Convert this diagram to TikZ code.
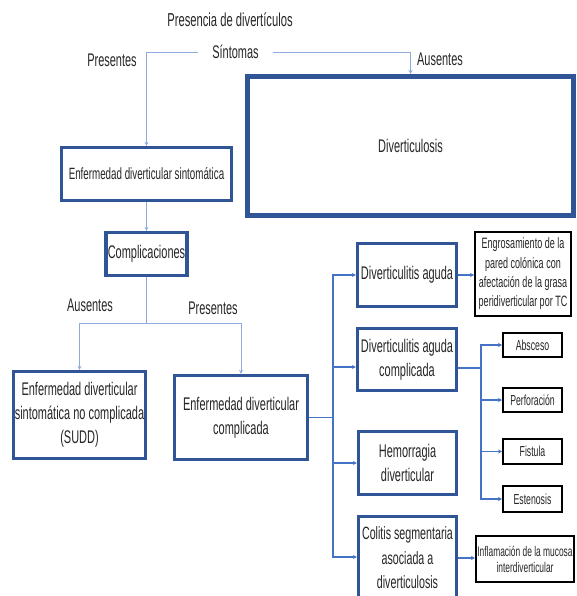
\documentclass[tikz,border=0pt]{standalone}
\usepackage{fontspec}
\setmainfont[FakeStretch=0.6]{Liberation Sans}
\usetikzlibrary{arrows.meta}
\definecolor{boxblue}{HTML}{2F5597}
\definecolor{connA}{HTML}{8FAADC}
\definecolor{connB}{HTML}{4472C4}
\definecolor{txt}{HTML}{262626}
\begin{document}
\begin{tikzpicture}[x=1pt,y=-1pt,
  bbox/.style={draw=boxblue, line width=3.2pt, fill=white, inner sep=1pt, align=center, text=txt},
  kbox/.style={draw=black, line width=1.6pt, fill=white, inner sep=1pt, align=center, text=txt},
  lbl/.style={text=txt, inner sep=0pt, font=\fontsize{18.3}{22}\selectfont},
  bigf/.style={font=\fontsize{18.3}{24}\selectfont},
  smallf/.style={font=\fontsize{14.5}{18}\selectfont},
  conn/.style={draw=connA, line width=0.9pt},
  conntwo/.style={draw=connB, line width=1.1pt},
  tip/.style={-{Stealth[length=4pt,width=4pt]}}
]
\useasboundingbox (0,0) rectangle (576,596);
\clip (0,0) rectangle (576,596);

% top labels
\node[lbl, font=\fontsize{18.7}{22}\selectfont] (pres) at (230,20) {Presencia de divertículos};
\node[lbl, inner xsep=14pt] (sint) at (235.5,52) {Síntomas};
\node[lbl] (lp1) at (112,60) {Presentes};
\node[lbl] (la1) at (440,59) {Ausentes};

% blue boxes
\node[bbox, line width=5pt, bigf, minimum width=326pt, minimum height=139pt] (div) at (410.5,146) {Diverticulosis};
\node[bbox, font=\fontsize{16.3}{22}\selectfont, minimum width=170pt, minimum height=53pt] (eds) at (146.5,174) {Enfermedad diverticular sintomática};
\node[bbox, bigf, minimum width=81pt, minimum height=43pt] (comp) at (146.5,254) {Complicaciones};
\node[bbox, bigf, minimum width=132pt, minimum height=87pt] (sudd) at (79.5,415) {Enfermedad diverticular\\sintomática no complicada\\(SUDD)};
\node[bbox, bigf, minimum width=133pt, minimum height=84pt] (edc) at (241,417.5) {Enfermedad diverticular\\complicada};
\node[bbox, bigf, minimum width=99pt, minimum height=63pt] (da) at (407,275) {Diverticulitis aguda};
\node[bbox, bigf, minimum width=99pt, minimum height=62pt] (dac) at (407,359.5) {Diverticulitis aguda\\complicada};
\node[bbox, bigf, minimum width=98pt, minimum height=63pt] (hem) at (407.5,463) {Hemorragia\\diverticular};
\node[bbox, font=\fontsize{17.8}{24.5}\selectfont, minimum width=98pt, minimum height=83pt] (col) at (407.5,558) {Colitis segmentaria\\asociada a\\diverticulosis};

% black boxes
\node[kbox, font=\fontsize{15}{19.3}\selectfont, minimum width=96.4pt, minimum height=84.4pt] (eng) at (523,274) {Engrosamiento de la\\pared colónica con\\afectación de la grasa\\peridiverticular por TC};
\node[kbox, smallf, minimum width=59.4pt, minimum height=24.4pt] (abs) at (532.5,345) {Absceso};
\node[kbox, smallf, minimum width=59.4pt, minimum height=24.4pt] (perf) at (532.5,400) {Perforación};
\node[kbox, smallf, minimum width=59.4pt, minimum height=25.4pt] (fis) at (532.5,451.5) {Fistula};
\node[kbox, smallf, minimum width=59.4pt, minimum height=26.4pt] (est) at (532.5,499) {Estenosis};
\node[kbox, font=\fontsize{14}{16}\selectfont, minimum width=98.4pt, minimum height=46.4pt] (inf) at (525,559) {Inflamación de la mucosa\\interdiverticular};

% top connectors
\draw[conn,tip] (sint.west) -| (eds.north);
\draw[conn,tip] (sint.east) -| (div.north);
\draw[conn,tip] (eds.south) -- (comp.north);

% complicaciones split
\coordinate (split) at (146.5,323);
\draw[conn] (comp.south) -- (split);
\draw[conn,tip] (split) -| (sudd.north);
\draw[conn,tip] (split) -| (edc.north);
\node[lbl] (la2) at (90,305) {Ausentes};
\node[lbl] (lp2) at (213,308) {Presentes};

% right spine
\coordinate (sp) at (333,417.5);
\draw[conntwo] (edc.east) -- (sp);
\draw[conntwo,tip] (sp) |- (da.west);
\draw[conntwo,tip] (sp) |- ([yshift=-7.5pt]dac.west);
\draw[conntwo,tip] (sp) |- (hem.west);
\draw[conntwo,tip] (sp) |- ([yshift=1pt]col.west);
\draw[conntwo,tip] (da.east) -- (eng.west |- da.east);
\draw[conntwo,tip] (col.east) -- (inf.west |- col.east);

% secondary spine
\coordinate (sptwo) at (481,368);
\draw[conntwo] ([yshift=-8.5pt]dac.east) -- (sptwo);
\draw[conntwo,tip] (sptwo) |- (abs.west);
\draw[conntwo,tip] (sptwo) |- (perf.west);
\draw[conntwo,tip] (sptwo) |- (fis.west);
\draw[conntwo,tip] (sptwo) |- (est.west);
\end{tikzpicture}
\end{document}
